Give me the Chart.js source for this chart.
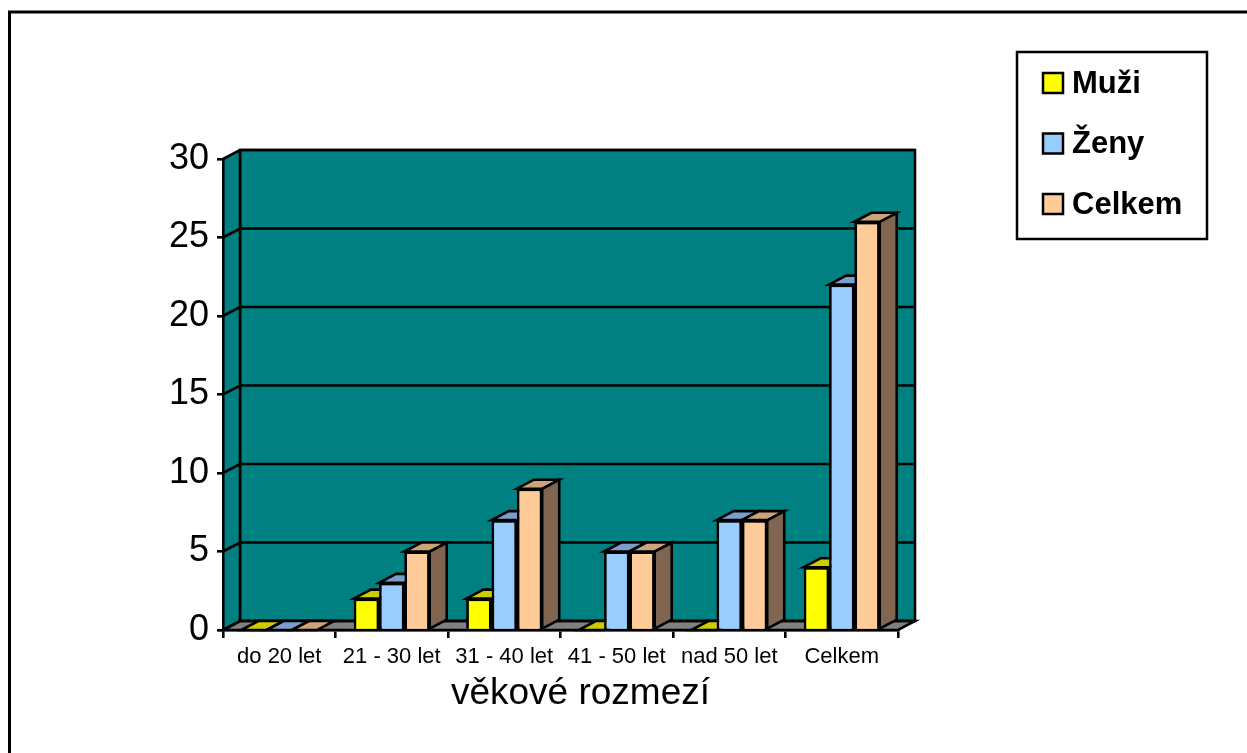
<!DOCTYPE html>
<html>
<head>
<meta charset="utf-8">
<script src="https://cdn.jsdelivr.net/npm/chart.js@4/dist/chart.umd.min.js"></script>
<style>
  body { margin: 0; background: #fff; }
  canvas { display: block; }
</style>
</head>
<body>
<canvas id="ageChart" width="1247" height="753"></canvas>
<script>
// data
const categories = ['do 20 let', '21 - 30 let', '31 - 40 let', '41 - 50 let', 'nad 50 let', 'Celkem'];
const muzi = [0, 2, 2, 0, 0, 4];
const zeny = [0, 3, 7, 5, 7, 22];
const celkem = [0, 5, 9, 5, 7, 26];
const seriesNames = ['Muži', 'Ženy', 'Celkem'];
const yTicks = [0, 5, 10, 15, 20, 25, 30];
const axisTitle = 'věkové rozmezí';

const frontColors = ['#FFFF00', '#99CCFF', '#FFCC99'];
const topColors = ['#CCCC00', '#7A9FCC', '#CCA37A'];
const sideColors = ['#808000', '#4D6680', '#806650'];

// 3d depth offset (px)
const DX = 17, DY = -9;
const LW = 2.6;

function face(ctx, pts, fill) {
  ctx.beginPath();
  ctx.moveTo(pts[0][0], pts[0][1]);
  for (let i = 1; i < pts.length; i++) ctx.lineTo(pts[i][0], pts[i][1]);
  ctx.closePath();
  ctx.fillStyle = fill;
  ctx.fill();
  ctx.stroke();
}

const box3d = {
  id: 'box3d',
  beforeDraw(chart) {
    const ctx = chart.ctx;
    const a = chart.chartArea;
    const y = chart.scales.y;
    ctx.save();
    ctx.fillStyle = '#fff';
    ctx.fillRect(0, 0, chart.width, chart.height);
    // outer frame
    ctx.lineWidth = 3;
    ctx.strokeStyle = '#000';
    ctx.strokeRect(9.5, 12, chart.width + 20, chart.height + 20);

    ctx.lineWidth = LW;
    ctx.lineJoin = 'miter';
    // back wall
    face(ctx, [[a.left + DX, a.top + DY], [a.right + DX, a.top + DY], [a.right + DX, a.bottom + DY], [a.left + DX, a.bottom + DY]], '#008080');
    // left wall
    ctx.fillStyle = '#008080';
    ctx.beginPath();
    ctx.moveTo(a.left, a.top);
    ctx.lineTo(a.left + DX, a.top + DY);
    ctx.lineTo(a.left + DX, a.bottom + DY);
    ctx.lineTo(a.left, a.bottom);
    ctx.closePath();
    ctx.fill();
    // floor
    face(ctx, [[a.left, a.bottom], [a.right, a.bottom], [a.right + DX, a.bottom + DY], [a.left + DX, a.bottom + DY]], '#808080');
    // grid lines on walls
    ctx.beginPath();
    yTicks.forEach(v => {
      const py = y.getPixelForValue(v);
      ctx.moveTo(a.left, py);
      ctx.lineTo(a.left + DX, py + DY);
      ctx.lineTo(a.right + DX, py + DY);
    });
    ctx.moveTo(a.left + DX, a.top + DY);
    ctx.lineTo(a.left + DX, a.bottom + DY);
    ctx.stroke();
    ctx.restore();
  },
  afterDatasetsDraw(chart) {
    const ctx = chart.ctx;
    const metas = chart.data.datasets.map((d, i) => chart.getDatasetMeta(i));
    ctx.save();
    ctx.lineWidth = LW;
    ctx.strokeStyle = '#000';
    ctx.lineJoin = 'miter';
    for (let j = 0; j < categories.length; j++) {
      metas.forEach((meta, i) => {
        const bar = meta.data[j];
        const p = bar.getProps(['x', 'y', 'base', 'width'], true);
        const L = p.x - p.width / 2, R = p.x + p.width / 2;
        if (p.base - p.y > 0.5) {
          face(ctx, [[R, p.y], [R + DX, p.y + DY], [R + DX, p.base + DY], [R, p.base]], sideColors[i]);
        }
        face(ctx, [[L, p.y], [R, p.y], [R + DX, p.y + DY], [L + DX, p.y + DY]], topColors[i]);
        if (p.base - p.y > 0.5) bar.draw(ctx, chart.chartArea);
      });
    }
    ctx.restore();
  },
  afterDraw(chart) {
    const ctx = chart.ctx;
    const a = chart.chartArea;
    ctx.save();
    // axis title
    ctx.fillStyle = '#000';
    ctx.font = '37px "Liberation Sans", Arial, sans-serif';
    ctx.textAlign = 'center';
    ctx.textBaseline = 'middle';
    ctx.fillText(axisTitle, (a.left + a.right) / 2 + DX + 3, 694);
    // legend
    ctx.lineWidth = 2.5;
    ctx.strokeStyle = '#000';
    ctx.strokeRect(1017, 52, 190, 187);
    ctx.font = 'bold 31px "Liberation Sans", Arial, sans-serif';
    ctx.textAlign = 'left';
    chart.data.datasets.forEach((ds, i) => {
      const cy = 83 + i * 60.5;
      ctx.fillStyle = ds.backgroundColor;
      ctx.fillRect(1043, cy - 10, 20, 20);
      ctx.strokeRect(1043, cy - 10, 20, 20);
      ctx.fillStyle = '#000';
      ctx.fillText(ds.label, 1072, cy + 1);
    });
    ctx.restore();
  }
};

new Chart(document.getElementById('ageChart'), {
  type: 'bar',
  data: {
    labels: categories,
    datasets: [muzi, zeny, celkem].map((vals, i) => ({
      label: seriesNames[i],
      data: vals,
      backgroundColor: frontColors[i],
      borderColor: '#000',
      borderWidth: 2.6,
      borderSkipped: 'start',
      categoryPercentage: 0.675,
      barPercentage: 1
    }))
  },
  options: {
    responsive: false,
    animation: false,
    events: [],
    layout: { padding: { top: 159, right: 349, left: 0, bottom: 0 } },
    plugins: { legend: { display: false }, tooltip: { enabled: false } },
    scales: {
      x: {
        afterFit(s) { s.height = 123; },
        grid: { drawOnChartArea: false, color: '#000', lineWidth: 2.6, tickLength: 8, offset: true },
        border: { display: true, color: '#000', width: 2.6 },
        ticks: { color: '#000', padding: 6, font: { family: '"Liberation Sans", Arial, sans-serif', size: 22 } }
      },
      y: {
        min: 0,
        max: 30,
        afterFit(s) { s.width = 223; },
        afterBuildTicks(s) { s.ticks = yTicks.map(v => ({ value: v })); },
        grid: { drawOnChartArea: false, color: '#000', lineWidth: 2.6, tickLength: 6 },
        border: { display: true, color: '#000', width: 2.6 },
        ticks: { color: '#000', padding: 8, font: { family: '"Liberation Sans", Arial, sans-serif', size: 36 } }
      }
    }
  },
  plugins: [box3d]
});
</script>
</body>
</html>
